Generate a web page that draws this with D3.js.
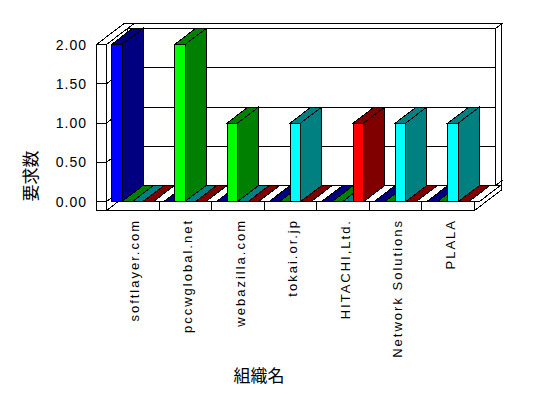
<!DOCTYPE html>
<html>
<head>
<meta charset="utf-8">
<script src="https://cdn.jsdelivr.net/npm/d3@7"></script>
<style>
  html, body { margin: 0; padding: 0; background: #fff; }
  svg { display: block; }
</style>
</head>
<body>
<div id="chart"></div>
<script>
// 3D bar chart (old-style oblique projection)

// -------------------------------------------------------------------------
// Data
// -------------------------------------------------------------------------
const categories = ["softlayer.com", "pccwglobal.net", "webazilla.com", "tokai.or.jp",
                    "HITACHI,Ltd.", "Network Solutions", "PLALA"];
const series1 = [2, 0, 0, 0, 0, 0, 0];
const series2 = [0, 2, 1, 0, 0, 0, 0];
const series3 = [0, 0, 0, 1, 0, 1, 1];
const series4 = [0, 0, 0, 0, 1, 0, 0];
const series5 = [0, 0, 0, 0, 0, 0, 0];
const yTicks = [0, 0.5, 1, 1.5, 2];
const yTitle = "要求数";
const xTitle = "組織名";

const allSeries = [series1, series2, series3, series4, series5];
const frontColor = ["#0000ff", "#00ff00", "#00ffff", "#ff0000", "#ffffff"];
const darkColor  = ["#000080", "#008000", "#008080", "#800000", "#ffffff"];

// -------------------------------------------------------------------------
// Layout
// -------------------------------------------------------------------------
const W = 548, H = 398;
const kx = 21, ky = 16;           // screen offset per unit of depth
const wallOuter = 96.5, plotLeft = 106.5, plotRight = 474.5;
const floorBottom = 210.5;
const wallDepth = 1.3;            // bars take depth 0..1, back wall 1..1.3

const svg = d3.select("#chart").append("svg")
  .attr("width", W).attr("height", H)
  .attr("viewBox", [0, 0, W, H]);

const y = d3.scaleLinear().domain([0, 2]).range([201.5, 44.5]);
const x = d3.scaleBand().domain(categories).range([plotLeft, plotRight]).padding(0);
const xs = d3.scaleBand().domain(d3.range(allSeries.length))
  .range([5, 5 + allSeries.length * 10.5]).padding(0);

const P = (px, py, pz) => [px + pz * kx, py - pz * ky];

const g = svg.append("g")
  .attr("stroke", "#000").attr("stroke-width", 1)
  .attr("stroke-linejoin", "miter")
  .attr("shape-rendering", "crispEdges");

function face(pts, fill) {
  g.append("polygon")
    .attr("points", pts.map((p) => p.join(",")).join(" "))
    .attr("fill", fill);
}
function line(a, b) {
  g.append("line")
    .attr("x1", a[0]).attr("y1", a[1]).attr("x2", b[0]).attr("y2", b[1]);
}

// box faces: front, top, right
function box(x0, x1, yb, yt, z0, z1, fFront, fTop, fSide, opts = {}) {
  if (!opts.noFront) face([P(x0, yb, z0), P(x1, yb, z0), P(x1, yt, z0), P(x0, yt, z0)], fFront);
  if (!opts.noTop) face([P(x0, yt, z0), P(x1, yt, z0), P(x1, yt, z1), P(x0, yt, z1)], fTop);
  if (!opts.noSide) {
    const zs = opts.sideZ1 != null ? opts.sideZ1 : z1;
    face([P(x1, yb, z0), P(x1, yb, zs), P(x1, yt, zs), P(x1, yt, z0)], fSide);
  }
}

// floor slab
box(wallOuter, plotRight, floorBottom, y(0), 0, wallDepth, "#fff", "#fff", "#fff");

// back wall
box(plotLeft, plotRight, y(0), y(2), 1, wallDepth, "#fff", "#fff", "#fff");
yTicks.filter((v) => v > 0 && v < 2).forEach((v) => {
  line(P(plotLeft, y(v), 1), P(plotRight, y(v), 1));
});

// left wall
box(wallOuter, plotLeft, floorBottom, y(2), 0, wallDepth, "#fff", "#fff", "#fff", { sideZ1: 1 });
yTicks.filter((v) => v < 2).forEach((v) => {
  line([wallOuter, y(v)], [plotLeft, y(v)]);
  line(P(plotLeft, y(v), 0), P(plotLeft, y(v), 1));
});

// category separators on the floor front
categories.slice(1).forEach((c) => {
  line([x(c), y(0)], [x(c), floorBottom]);
});

// bars
categories.forEach((c, ci) => {
  allSeries.forEach((s, si) => {
    const x0 = x(c) + xs(si), x1 = x0 + xs.bandwidth();
    const v = s[ci];
    box(x0, x1, y(0), y(v), 0, 1, frontColor[si], darkColor[si], darkColor[si],
        { noFront: v === 0, noSide: v === 0 });
  });
});

// -------------------------------------------------------------------------
// Text
// -------------------------------------------------------------------------
svg.append("g").selectAll("text").data(yTicks).join("text")
  .attr("x", 87).attr("y", (d) => y(d))
  .attr("dy", "0.36em")
  .attr("text-anchor", "end")
  .attr("font-family", "Liberation Sans, Arial, sans-serif")
  .attr("font-size", 14).attr("letter-spacing", 1)
  .attr("fill", "#000")
  .text((d) => d3.format(".2f")(d));

svg.append("g").selectAll("text").data(categories).join("text")
  .attr("transform", (d) => `translate(${x(d) + x.bandwidth() / 2 + 2},219) rotate(-90)`)
  .attr("dy", "0.36em")
  .attr("text-anchor", "end")
  .attr("font-family", "Liberation Sans, Arial, sans-serif")
  .attr("font-size", 13).attr("letter-spacing", 2)
  .attr("fill", "#000")
  .text((d) => d);

svg.append("text")
  .attr("transform", "translate(31,176) rotate(-90)")
  .attr("dy", "0.36em")
  .attr("text-anchor", "middle")
  .attr("font-family", "Noto Sans CJK JP, sans-serif")
  .attr("font-size", 17)
  .attr("fill", "#000")
  .text(yTitle);

svg.append("text")
  .attr("x", 259).attr("y", 376)
  .attr("dy", "0.36em")
  .attr("text-anchor", "middle")
  .attr("font-family", "Noto Sans CJK JP, sans-serif")
  .attr("font-size", 17)
  .attr("fill", "#000")
  .text(xTitle);
</script>
</body>
</html>
